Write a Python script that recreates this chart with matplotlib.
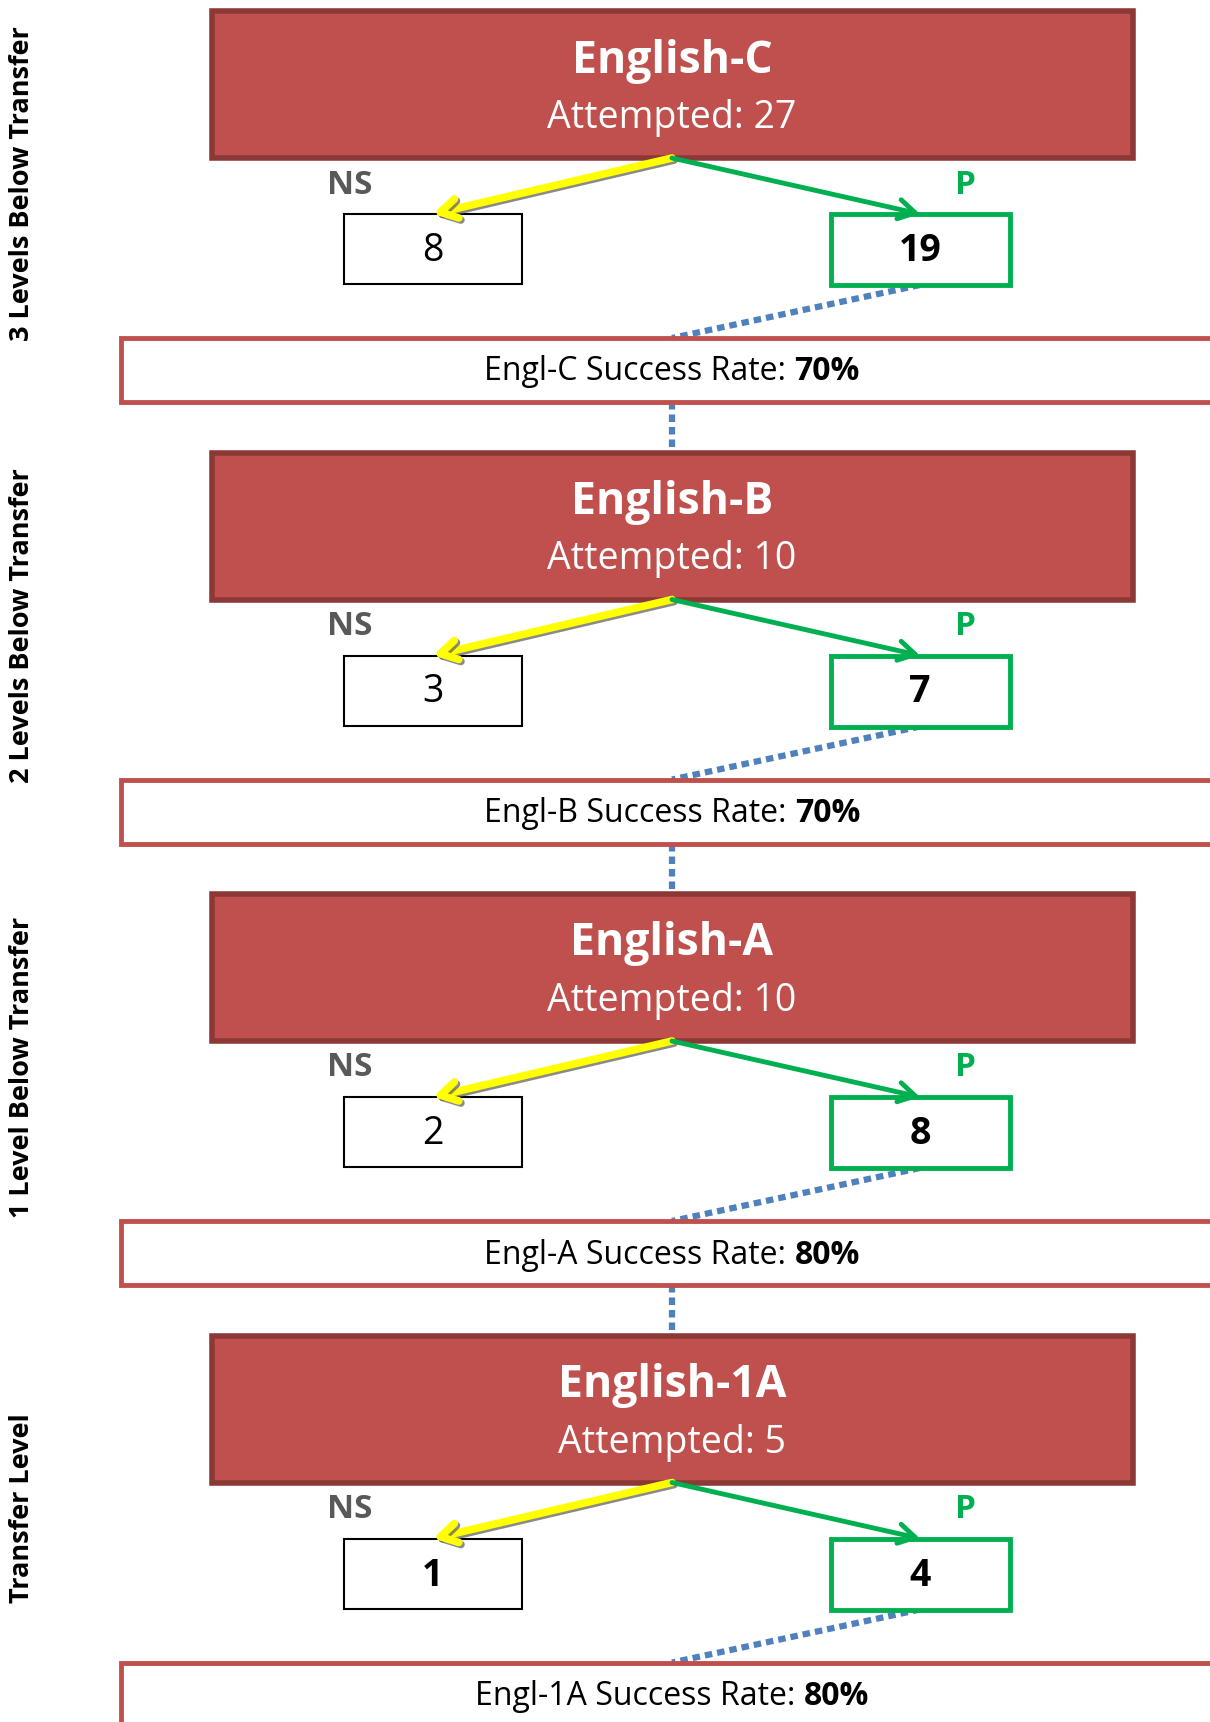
import matplotlib
matplotlib.use('Agg')
import matplotlib.pyplot as plt
from matplotlib.patches import Rectangle, FancyArrowPatch
import matplotlib.patheffects as pe

# data
courses = ['English-C', 'English-B', 'English-A', 'English-1A']
short_names = ['Engl-C', 'Engl-B', 'Engl-A', 'Engl-1A']
level_labels = ['3 Levels Below Transfer', '2 Levels Below Transfer',
                '1 Level Below Transfer', 'Transfer Level']
attempted = [27, 10, 10, 5]
not_success = [8, 3, 2, 1]
success = [19, 7, 8, 4]
success_rate = [70, 70, 80, 80]

W, H = 1210, 1722
fig = plt.figure(figsize=(W / 100, H / 100), dpi=100)
ax = fig.add_axes([0, 0, 1, 1])
ax.set_xlim(0, W)
ax.set_ylim(H, 0)
ax.axis('off')
renderer = fig.canvas.get_renderer()

font = 'Open Sans'
red = '#C0504D'
dark_red = '#8C3836'
green = '#00B050'
blue = '#4F81BD'
grey = '#595959'


def text_width(t):
    bb = t.get_window_extent(renderer=renderer)
    return bb.width  # pixels == data units here


step = 441.5
for i in range(len(courses)):
    y0 = 11 + i * step
    cx = 672

    # course box
    ax.add_patch(Rectangle((212, y0), 921, 147, facecolor=red,
                           edgecolor=dark_red, lw=4, zorder=2))
    ax.text(cx, y0 + 50, courses[i], ha='center', va='center', color='white',
            fontsize=32, fontweight='bold', family=font, zorder=3)
    ax.text(cx, y0 + 107, 'Attempted: %d' % attempted[i], ha='center',
            va='center', color='white', fontsize=27, family=font, zorder=3)

    # NS / P labels
    ax.text(350, y0 + 174, 'NS', ha='center', va='center', color=grey,
            fontsize=24, fontweight='bold', family=font)
    ax.text(965, y0 + 174, 'P', ha='center', va='center', color=green,
            fontsize=24, fontweight='bold', family=font)

    # result boxes
    ax.add_patch(Rectangle((344, y0 + 203), 178, 70, facecolor='white',
                           edgecolor='black', lw=1.5, zorder=2))
    ax.text(433, y0 + 240, str(not_success[i]), ha='center', va='center',
            fontsize=27, family=font,
            fontweight='bold' if i == 3 else 'normal', zorder=3)
    ax.add_patch(Rectangle((831, y0 + 203), 179, 71, facecolor='white',
                           edgecolor=green, lw=3.5, zorder=2))
    ax.text(920, y0 + 240, str(success[i]), ha='center', va='center',
            fontsize=27, fontweight='bold', family=font, zorder=3)

    # arrows
    ns_arrow = FancyArrowPatch((cx, y0 + 147), (433, y0 + 203),
                               arrowstyle='->,head_length=12,head_width=7',
                               color='#FFFF00', lw=5.5, zorder=4,
                               shrinkA=0, shrinkB=0)
    ns_arrow.set_path_effects([pe.SimpleLineShadow(offset=(1.5, -1.5),
                                                   shadow_color='0.35', alpha=0.7),
                               pe.Normal()])
    ax.add_patch(ns_arrow)
    ax.add_patch(FancyArrowPatch((cx, y0 + 147), (920, y0 + 203),
                                 arrowstyle='->,head_length=12,head_width=7',
                                 color=green, lw=3.5, zorder=4,
                                 shrinkA=0, shrinkB=0))

    # dotted connectors
    ax.plot([920, cx], [y0 + 274, y0 + 327], color=blue, lw=4.5,
            ls=(0, (1.2, 0.8)), zorder=1)

    # success rate box
    ax.add_patch(Rectangle((121, y0 + 327), 1120, 64, facecolor='white',
                           edgecolor=red, lw=3.5, zorder=2))
    t1 = ax.text(0, y0 + 361, '%s Success Rate: ' % short_names[i],
                 ha='left', va='center', fontsize=23, family=font, zorder=3)
    t2 = ax.text(0, y0 + 361, '%d%%' % success_rate[i], ha='left',
                 va='center', fontsize=23, fontweight='bold', family=font,
                 zorder=3)
    w1, w2 = text_width(t1), text_width(t2)
    left = cx - (w1 + w2) / 2
    t1.set_x(left)
    t2.set_x(left + w1)

    if i < len(courses) - 1:
        ax.plot([cx, cx], [y0 + 391, y0 + step], color=blue, lw=4.5,
                ls=(0, (1.2, 0.8)), zorder=1)

    # level label on the left
    ax.text(22, y0 + 173, level_labels[i], ha='center', va='center',
            rotation=90, fontsize=19.5, fontweight='bold', family=font)

fig.savefig('out.png', dpi=100)
